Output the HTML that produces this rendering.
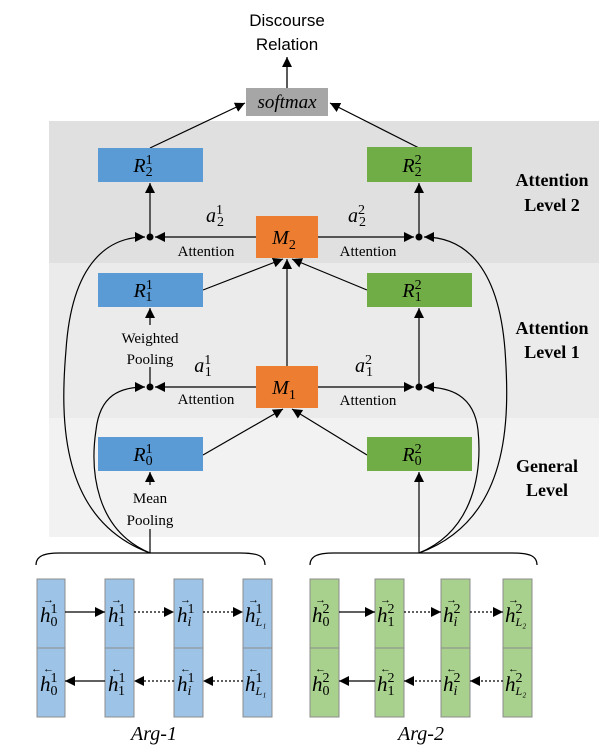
<!DOCTYPE html>
<html><head><meta charset="utf-8"><style>
html,body{margin:0;padding:0;background:#fff;}
svg{display:block;}
.s{font-family:"Liberation Serif",serif;}
.i{font-style:italic;}
</style></head><body>
<svg width="615" height="753" viewBox="0 0 615 753" xmlns="http://www.w3.org/2000/svg">
<defs>
<marker id="a" viewBox="0 0 10 10" refX="10" refY="5" markerWidth="10" markerHeight="10" markerUnits="userSpaceOnUse" orient="auto"><path d="M0,0 L10,5 L0,10 z" fill="#000"/></marker>
</defs>
<rect x="49" y="121" width="550" height="142" fill="#e0e0e0"/>
<rect x="49" y="263" width="550" height="155" fill="#ebebeb"/>
<rect x="49" y="418" width="550" height="119" fill="#f2f2f2"/>

<text x="287" y="26" font-family="Liberation Sans,sans-serif" font-size="17" text-anchor="middle">Discourse</text>
<text x="287" y="50" font-family="Liberation Sans,sans-serif" font-size="17" text-anchor="middle">Relation</text>
<line x1="287" y1="88" x2="287" y2="57" stroke="#000" stroke-width="1.3" marker-end="url(#a)"/>
<rect x="246" y="88" width="82" height="28" fill="#a6a6a6"/>
<text x="287" y="108" class="s i" font-size="19" text-anchor="middle">softmax</text>
<line x1="150" y1="148" x2="245" y2="103" stroke="#000" stroke-width="1.2" marker-end="url(#a)"/>
<line x1="419" y1="148" x2="330" y2="103" stroke="#000" stroke-width="1.2" marker-end="url(#a)"/>

<g stroke="#000" stroke-width="1.2" fill="none">
<line x1="256" y1="237" x2="155" y2="237" marker-end="url(#a)"/>
<line x1="318" y1="237" x2="414" y2="237" marker-end="url(#a)"/>
<line x1="150" y1="237" x2="150" y2="183" marker-end="url(#a)"/>
<line x1="419" y1="237" x2="419" y2="183" marker-end="url(#a)"/>
<line x1="256" y1="387" x2="155" y2="387" marker-end="url(#a)"/>
<line x1="318" y1="387" x2="414" y2="387" marker-end="url(#a)"/>
<line x1="150" y1="387" x2="150" y2="308" marker-end="url(#a)"/>
<line x1="419" y1="387" x2="419" y2="308" marker-end="url(#a)"/>
<line x1="287" y1="366" x2="287" y2="259" marker-end="url(#a)"/>
<line x1="203" y1="290" x2="283" y2="259" marker-end="url(#a)"/>
<line x1="367" y1="290" x2="292" y2="259" marker-end="url(#a)"/>
<line x1="203" y1="455" x2="283" y2="409" marker-end="url(#a)"/>
<line x1="367" y1="455" x2="292" y2="409" marker-end="url(#a)"/>
<line x1="150" y1="553" x2="150" y2="472" marker-end="url(#a)"/>
<line x1="419" y1="553" x2="419" y2="472" marker-end="url(#a)"/>
<path d="M150,553 C60,520 60,420 66,350 C72,260 110,237 145,237" marker-end="url(#a)"/>
<path d="M150,553 C95,530 90,470 96,430 C100,395 120,387 145,387" marker-end="url(#a)"/>
<path d="M419,553 C510,520 510,420 505,350 C498,260 460,237 424,237" marker-end="url(#a)"/>
<path d="M419,553 C475,530 482,470 478,430 C474,395 450,387 424,387" marker-end="url(#a)"/>
<path d="M36,565 C36,556 44,553 60,553 L240,553 C258,553 265,556 265,565"/>
<path d="M310,565 C310,556 318,553 334,553 L512,553 C530,553 537,556 537,565"/>
</g>
<circle cx="150" cy="237" r="3.5"/><circle cx="419" cy="237" r="3.5"/>
<circle cx="150" cy="387" r="3.5"/><circle cx="419" cy="387" r="3.5"/>

<rect x="98" y="148" width="105" height="34" fill="#5b9bd5"/>
<rect x="367" y="147" width="105" height="35" fill="#70ad47"/>
<rect x="98" y="273" width="105" height="34" fill="#5b9bd5"/>
<rect x="367" y="273" width="105" height="34" fill="#70ad47"/>
<rect x="98" y="437" width="105" height="34" fill="#5b9bd5"/>
<rect x="367" y="437" width="105" height="34" fill="#70ad47"/>
<rect x="256" y="216" width="62" height="42" fill="#ed7d31"/>
<rect x="256" y="366" width="62" height="42" fill="#ed7d31"/>

<g class="s" font-size="20">
<text x="143" y="172" class="i" text-anchor="middle">R<tspan font-size="14" font-style="normal" dy="-8">1</tspan><tspan font-size="14" font-style="normal" dx="-7" dy="12">2</tspan></text>
<text x="412" y="172" class="i" text-anchor="middle">R<tspan font-size="14" font-style="normal" dy="-8">2</tspan><tspan font-size="14" font-style="normal" dx="-7" dy="12">2</tspan></text>
<text x="143" y="297" class="i" text-anchor="middle">R<tspan font-size="14" font-style="normal" dy="-8">1</tspan><tspan font-size="14" font-style="normal" dx="-7" dy="12">1</tspan></text>
<text x="412" y="297" class="i" text-anchor="middle">R<tspan font-size="14" font-style="normal" dy="-8">2</tspan><tspan font-size="14" font-style="normal" dx="-7" dy="12">1</tspan></text>
<text x="143" y="461" class="i" text-anchor="middle">R<tspan font-size="14" font-style="normal" dy="-8">1</tspan><tspan font-size="14" font-style="normal" dx="-7" dy="12">0</tspan></text>
<text x="412" y="461" class="i" text-anchor="middle">R<tspan font-size="14" font-style="normal" dy="-8">2</tspan><tspan font-size="14" font-style="normal" dx="-7" dy="12">0</tspan></text>
<text x="284" y="244" class="i" text-anchor="middle">M<tspan font-size="14" font-style="normal" dy="5">2</tspan></text>
<text x="284" y="394" class="i" text-anchor="middle">M<tspan font-size="14" font-style="normal" dy="5">1</tspan></text>
<text x="215" y="222" class="i" text-anchor="middle">a<tspan font-size="14" font-style="normal" dy="-8">1</tspan><tspan font-size="14" font-style="normal" dx="-6" dy="12">2</tspan></text>
<text x="357" y="222" class="i" text-anchor="middle">a<tspan font-size="14" font-style="normal" dy="-8">2</tspan><tspan font-size="14" font-style="normal" dx="-6" dy="12">2</tspan></text>
<text x="203" y="372" class="i" text-anchor="middle">a<tspan font-size="14" font-style="normal" dy="-8">1</tspan><tspan font-size="14" font-style="normal" dx="-6" dy="12">1</tspan></text>
<text x="364" y="372" class="i" text-anchor="middle">a<tspan font-size="14" font-style="normal" dy="-8">2</tspan><tspan font-size="14" font-style="normal" dx="-6" dy="12">1</tspan></text>
</g>
<g class="s" font-size="15" text-anchor="middle">
<text x="206" y="256">Attention</text>
<text x="368" y="256">Attention</text>
<text x="206" y="404">Attention</text>
<text x="368" y="405">Attention</text>
<rect x="110" y="325" width="80" height="42" fill="#ebebeb"/>
<text x="150" y="343">Weighted</text>
<text x="150" y="364">Pooling</text>
<rect x="118" y="485" width="64" height="44" fill="#f2f2f2"/>
<text x="150" y="503">Mean</text>
<text x="150" y="525">Pooling</text>
</g>
<g class="s" font-size="18" font-weight="bold" text-anchor="middle">
<text x="552" y="186">Attention</text><text x="552" y="211">Level 2</text>
<text x="552" y="334">Attention</text><text x="552" y="358">Level 1</text>
<text x="547" y="472">General</text><text x="547" y="496">Level</text>
</g>

<g stroke="#8c8c8c" stroke-width="1">
<rect x="37" y="579" width="28" height="69" fill="#9dc3e6"/><rect x="37" y="648" width="28" height="69" fill="#9dc3e6"/>
<rect x="105" y="579" width="29" height="69" fill="#9dc3e6"/><rect x="105" y="648" width="29" height="69" fill="#9dc3e6"/>
<rect x="174" y="579" width="29" height="69" fill="#9dc3e6"/><rect x="174" y="648" width="29" height="69" fill="#9dc3e6"/>
<rect x="243" y="579" width="29" height="69" fill="#9dc3e6"/><rect x="243" y="648" width="29" height="69" fill="#9dc3e6"/>
<rect x="310" y="579" width="29" height="69" fill="#a9d18e"/><rect x="310" y="648" width="29" height="69" fill="#a9d18e"/>
<rect x="375" y="579" width="29" height="69" fill="#a9d18e"/><rect x="375" y="648" width="29" height="69" fill="#a9d18e"/>
<rect x="441" y="579" width="29" height="69" fill="#a9d18e"/><rect x="441" y="648" width="29" height="69" fill="#a9d18e"/>
<rect x="503" y="579" width="29" height="69" fill="#a9d18e"/><rect x="503" y="648" width="29" height="69" fill="#a9d18e"/>
</g>
<g stroke="#000" stroke-width="1.2">
<line x1="65" y1="612" x2="105" y2="612" marker-end="url(#a)"/>
<line x1="134" y1="612" x2="174" y2="612" stroke-dasharray="2,2" marker-end="url(#a)"/>
<line x1="203" y1="612" x2="243" y2="612" stroke-dasharray="2,2" marker-end="url(#a)"/>
<line x1="105" y1="681" x2="65" y2="681" marker-end="url(#a)"/>
<line x1="174" y1="681" x2="134" y2="681" stroke-dasharray="2,2" marker-end="url(#a)"/>
<line x1="243" y1="681" x2="203" y2="681" stroke-dasharray="2,2" marker-end="url(#a)"/>
<line x1="339" y1="612" x2="375" y2="612" marker-end="url(#a)"/>
<line x1="404" y1="612" x2="441" y2="612" stroke-dasharray="2,2" marker-end="url(#a)"/>
<line x1="470" y1="612" x2="503" y2="612" stroke-dasharray="2,2" marker-end="url(#a)"/>
<line x1="375" y1="681" x2="339" y2="681" marker-end="url(#a)"/>
<line x1="441" y1="681" x2="404" y2="681" stroke-dasharray="2,2" marker-end="url(#a)"/>
<line x1="503" y1="681" x2="470" y2="681" stroke-dasharray="2,2" marker-end="url(#a)"/>
</g>
<g class="s" font-size="21">
<g class="i">
<text x="40" y="622">h<tspan font-size="14" font-style="normal" dy="-9">1</tspan><tspan font-size="14" font-style="normal" dx="-7" dy="13">0</tspan></text>
<text x="108" y="622">h<tspan font-size="14" font-style="normal" dy="-9">1</tspan><tspan font-size="14" font-style="normal" dx="-7" dy="13">1</tspan></text>
<text x="177" y="622">h<tspan font-size="14" font-style="normal" dy="-9">1</tspan><tspan font-size="14" dx="-7" dy="13">i</tspan></text>
<text x="245" y="622">h<tspan font-size="14" font-style="normal" dy="-9">1</tspan><tspan font-size="12" dx="-7" dy="13">L₁</tspan></text>
<text x="40" y="691">h<tspan font-size="14" font-style="normal" dy="-9">1</tspan><tspan font-size="14" font-style="normal" dx="-7" dy="13">0</tspan></text>
<text x="108" y="691">h<tspan font-size="14" font-style="normal" dy="-9">1</tspan><tspan font-size="14" font-style="normal" dx="-7" dy="13">1</tspan></text>
<text x="177" y="691">h<tspan font-size="14" font-style="normal" dy="-9">1</tspan><tspan font-size="14" dx="-7" dy="13">i</tspan></text>
<text x="245" y="691">h<tspan font-size="14" font-style="normal" dy="-9">1</tspan><tspan font-size="12" dx="-7" dy="13">L₁</tspan></text>
<text x="312" y="622">h<tspan font-size="14" font-style="normal" dy="-9">2</tspan><tspan font-size="14" font-style="normal" dx="-7" dy="13">0</tspan></text>
<text x="377" y="622">h<tspan font-size="14" font-style="normal" dy="-9">2</tspan><tspan font-size="14" font-style="normal" dx="-7" dy="13">1</tspan></text>
<text x="443" y="622">h<tspan font-size="14" font-style="normal" dy="-9">2</tspan><tspan font-size="14" dx="-7" dy="13">i</tspan></text>
<text x="505" y="622">h<tspan font-size="14" font-style="normal" dy="-9">2</tspan><tspan font-size="12" dx="-7" dy="13">L₂</tspan></text>
<text x="312" y="691">h<tspan font-size="14" font-style="normal" dy="-9">2</tspan><tspan font-size="14" font-style="normal" dx="-7" dy="13">0</tspan></text>
<text x="377" y="691">h<tspan font-size="14" font-style="normal" dy="-9">2</tspan><tspan font-size="14" font-style="normal" dx="-7" dy="13">1</tspan></text>
<text x="443" y="691">h<tspan font-size="14" font-style="normal" dy="-9">2</tspan><tspan font-size="14" dx="-7" dy="13">i</tspan></text>
<text x="505" y="691">h<tspan font-size="14" font-style="normal" dy="-9">2</tspan><tspan font-size="12" dx="-7" dy="13">L₂</tspan></text>
</g>
<g font-size="11">
<text x="43" y="603">→</text><text x="111" y="603">→</text><text x="180" y="603">→</text><text x="248" y="603">→</text>
<text x="315" y="603">→</text><text x="380" y="603">→</text><text x="446" y="603">→</text><text x="508" y="603">→</text>
<text x="43" y="672">←</text><text x="111" y="672">←</text><text x="180" y="672">←</text><text x="248" y="672">←</text>
<text x="315" y="672">←</text><text x="380" y="672">←</text><text x="446" y="672">←</text><text x="508" y="672">←</text>
</g>
<text x="154" y="740" class="i" font-size="20" text-anchor="middle">Arg-1</text>
<text x="421" y="740" class="i" font-size="20" text-anchor="middle">Arg-2</text>
</g>
</svg>
</body></html>
